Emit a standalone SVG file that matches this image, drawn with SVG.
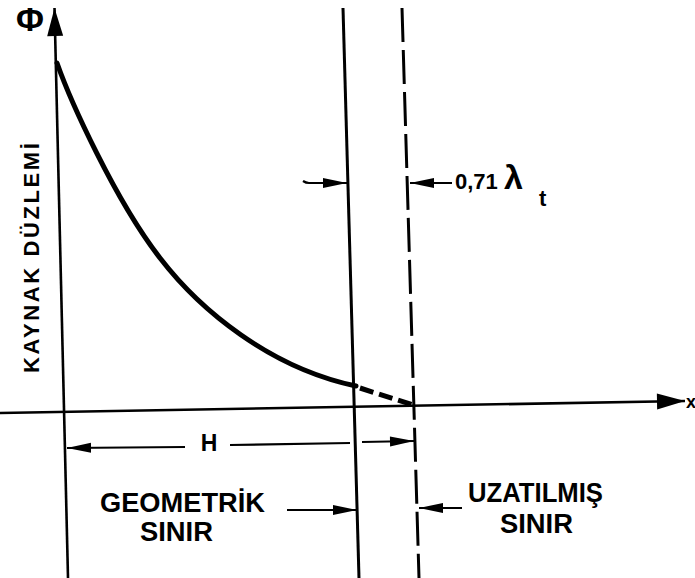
<svg xmlns="http://www.w3.org/2000/svg" width="695" height="578" viewBox="0 0 695 578">
<style>
.ln{stroke:#000;fill:none;stroke-linecap:butt}
.ax{stroke-width:2.6}
.bd{stroke-width:3}
.cv{stroke-width:5;stroke-linecap:round}
.dim{stroke-width:2.2}
.t{font-family:"Liberation Sans","DejaVu Sans",sans-serif;font-weight:bold;fill:#000}
</style>
<defs>
<marker id="big" markerUnits="userSpaceOnUse" markerWidth="30" markerHeight="18" refX="28" refY="8" orient="auto" overflow="visible">
<path d="M0,0 L28,8 L0,16 z" fill="#000"/>
</marker>
<marker id="sm" markerUnits="userSpaceOnUse" markerWidth="26" markerHeight="12" refX="24" refY="5" orient="auto" overflow="visible">
<path d="M0,0 L24,5 L0,10 z" fill="#000"/>
</marker>
</defs>
<rect width="695" height="578" fill="#fff"/>
<g id="connectors">
<line id="y-axis" class="ln ax" x1="68" y1="578" x2="54.5" y2="8" marker-end="url(#big)"/>
<line id="x-axis" class="ln ax" x1="0" y1="413" x2="685" y2="401" marker-end="url(#big)"/>
<line id="geometric-boundary" class="ln bd" x1="343" y1="8" x2="359" y2="578"/>
<line id="extrapolated-boundary" class="ln bd" x1="402" y1="8" x2="419" y2="578" stroke-dasharray="34 8"/>
<path id="flux-curve" class="ln cv" d="M57,63 C70,100 115,200 160,258 C200,310 270,368 356,386"/>
<path id="flux-extension" class="ln" stroke-width="5" d="M360,388 L413,405" stroke-dasharray="14 6"/>
<path class="ln dim" d="M303,181 q3,2 6,2 L347,183" marker-end="url(#sm)"/>
<line class="ln dim" x1="452" y1="183" x2="410" y2="183" marker-end="url(#sm)"/>
<line class="ln dim" x1="185" y1="447" x2="67" y2="448" marker-end="url(#sm)"/>
<line class="ln dim" x1="230" y1="445" x2="350" y2="443"/>
<line class="ln dim" x1="362" y1="442" x2="414" y2="441" marker-end="url(#sm)"/>
<line class="ln dim" x1="287" y1="510" x2="357" y2="510" marker-end="url(#sm)"/>
<line class="ln dim" x1="462" y1="508" x2="419" y2="508" marker-end="url(#sm)"/>
</g>
<g id="phi-label"><text class="t" x="30" y="31" font-size="34" text-anchor="middle">Φ</text></g>
<g id="x-label"><text class="t" x="686" y="408" font-size="18">x</text></g>
<g id="source-plane"><text class="t" transform="translate(39,373) rotate(-90)" font-size="22" letter-spacing="2.6">KAYNAK DÜZLEMİ</text></g>
<g id="lambda-label">
<text class="t" x="455" y="189" font-size="22">0,71</text>
<text class="t" x="504" y="189" font-size="34">λ</text>
<text class="t" x="539" y="206" font-size="22">t</text>
</g>
<g id="H-label"><text class="t" x="209" y="451" font-size="23" text-anchor="middle">H</text></g>
<g id="geometric-label">
<text class="t" x="100" y="512" font-size="27" textLength="165" lengthAdjust="spacingAndGlyphs">GEOMETRİK</text>
<text class="t" x="140" y="541" font-size="27" textLength="73" lengthAdjust="spacingAndGlyphs">SINIR</text>
</g>
<g id="extrapolated-label">
<text class="t" x="468" y="502" font-size="27" textLength="135" lengthAdjust="spacingAndGlyphs">UZATILMIŞ</text>
<text class="t" x="500" y="533" font-size="27" textLength="73" lengthAdjust="spacingAndGlyphs">SINIR</text>
</g>
</svg>
